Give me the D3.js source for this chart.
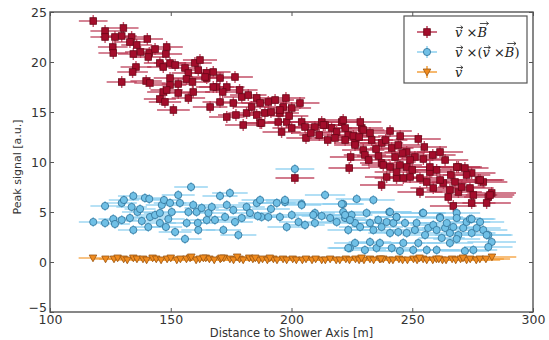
<!DOCTYPE html>
<html>
<head>
<meta charset="utf-8">
<script src="https://cdn.jsdelivr.net/npm/d3@7"></script>
<style>
  html, body { margin: 0; padding: 0; background: #fff; }
  svg { display: block; }
  .tick text { font-family: "DejaVu Sans", sans-serif; font-size: 12.5px; fill: #333; }
</style>
</head>
<body>
<svg id="chart" width="549" height="340"></svg>
<script>
// Peak signal vs. distance to shower axis, three polarisation components

// v x B component
const redX = [117.9,130.4,122.8,122.8,126.9,129.7,133.8,133.1,140.3,135.9,126.0,126.2,137.5,134.5,141.1,143.5,148.3,148.0,140.7,145.5,
  149.7,151.8,146.9,135.6,134.2,155.9,157.3,160.0,162.1,161.4,164.9,167.6,129.7,139.8,141.4,149.7,149.7,153.1,146.9,148.3,
  153.1,157.3,159.3,145.5,147.6,151.1,166.3,169.0,164.9,164.2,170.4,176.6,167.6,173.2,170.4,175.9,179.4,182.1,185.6,187.0,
  190.4,193.2,197.7,203.5,196.6,200.1,173.2,177.0,181.4,185.6,189.0,195.2,180.0,187.0,194.5,198.0,195.9,200.1,204.2,205.6,
  209.7,212.5,213.9,216.6,206.0,218.7,220.8,222.2,218.0,223.5,225.6,226.3,223.9,201.4,221.4,222.2,229.1,232.5,233.2,240.8,
  226.3,229.7,230.4,237.3,241.5,244.2,252.5,247.7,242.9,251.1,254.6,237.3,240.8,244.9,247.7,261.5,263.6,257.3,260.1,269.1,
  271.8,274.6,239.4,243.5,249.1,253.2,237.3,256.0,262.9,267.7,277.4,279.4,253.2,264.9,269.1,275.3,281.5,282.9,274.6,280.8,
  267.0,261.5,270.5,258.7,195.2,187.6,213.2,229.7,249.1,257.3,268.4,272.5,278.1,282.2,246.3,265.6,273.9,238.0,243.5,156.5,
  159.0,171.5,178.5,183.5,191.5,199.0,208.0,211.5,215.0,228.0,235.0,239.0,246.0,250.0,255.0,258.5,266.0,245.0,232.0,236.0,
  228.5,224.5];
const redY = [24.1,23.4,23.1,22.5,22.5,22.6,22.5,22.0,22.3,21.7,21.5,20.9,21.0,20.8,20.9,21.3,21.5,20.8,20.5,19.9,
  19.9,19.7,19.5,19.5,19.0,19.4,18.9,19.9,20.2,19.2,18.9,19.0,18.0,18.1,17.9,18.4,17.7,17.8,17.0,17.2,
  16.9,16.4,17.0,16.3,16.0,15.2,15.5,17.5,18.4,18.5,18.4,18.5,17.5,17.5,16.0,15.9,16.5,16.7,16.4,15.9,
  16.0,16.2,16.4,15.9,15.5,15.4,14.5,14.7,14.9,14.7,14.9,14.9,13.7,13.9,14.0,14.0,13.0,13.4,14.0,13.5,
  13.5,14.0,13.7,13.4,12.4,13.0,14.0,13.4,12.4,12.7,12.6,11.9,9.4,8.4,14.2,12.2,13.4,12.9,12.2,13.1,
  11.7,11.2,10.7,11.9,11.4,11.7,12.3,11.0,10.5,10.5,10.3,9.9,9.5,9.7,9.5,11.0,10.2,9.0,9.2,9.5,
  9.4,8.9,8.5,8.4,8.5,8.4,7.7,8.0,7.9,8.0,8.2,8.0,7.0,6.5,7.0,6.7,6.5,6.9,5.9,5.9,
  5.6,8.2,7.5,7.4,15.2,13.9,13.7,13.2,10.2,9.5,9.5,8.7,8.2,6.7,8.4,7.2,7.4,9.7,9.0,18.3,
  18.0,17.0,17.2,15.5,15.0,14.6,12.9,12.7,12.2,12.5,11.3,12.2,10.9,9.2,11.5,10.7,8.7,12.6,10.2,10.6,
  14.0,10.5];

// v x (v x B) component
const blueX = [117.9,122.8,122.8,126.2,126.9,129.7,129.7,130.6,133.1,133.8,134.5,134.5,136.2,137.3,138.0,139.3,141.1,140.7,141.4,143.5,
  145.5,145.5,146.3,147.2,148.0,149.0,149.7,150.4,151.8,153.1,153.8,155.9,156.6,157.3,158.4,159.3,160.7,161.2,161.4,162.8,
  164.9,165.6,167.0,168.3,170.4,171.8,172.5,173.2,174.5,175.9,176.6,178.0,179.4,181.4,182.8,185.6,187.0,187.6,190.4,193.9,
  195.2,197.3,198.0,200.1,202.9,201.4,213.9,227.0,233.9,204.2,221.4,205.6,209.7,212.5,216.0,218.7,221.4,222.2,224.9,223.5,
  226.3,228.4,231.1,232.5,233.9,235.9,237.3,239.4,240.5,240.8,242.2,243.5,244.2,247.0,247.7,251.1,251.8,254.3,255.3,256.6,
  258.7,260.1,262.2,261.5,263.6,264.3,265.6,267.0,268.4,268.4,269.1,271.1,272.5,273.9,274.6,276.7,278.1,279.4,281.5,282.9,
  275.3,271.8,260.1,256.0,250.4,244.9,241.5,235.2,230.4,224.2,226.3,236.6,232.5,246.3,252.5,265.6,268.4,281.5,197.3,209.0,
  209.7,220.8,222.2,224.2,240.8,243.5,254.6,261.5,274.6,280.8,223.5,204.2,186.0,191.5];
const blueY = [4.0,3.9,5.6,4.3,3.8,4.2,5.9,6.2,4.4,5.5,6.6,3.2,5.0,5.3,4.1,6.4,6.3,3.5,4.5,4.7,
  4.9,3.9,5.7,6.2,3.5,4.3,5.9,5.0,3.0,6.7,5.9,2.3,3.9,5.0,7.5,5.7,5.0,3.9,3.2,5.4,
  4.2,4.9,5.5,4.2,6.6,3.2,4.5,5.7,6.9,5.2,4.0,2.7,4.4,5.5,4.9,5.9,6.2,4.5,4.5,5.9,
  4.5,6.0,3.5,4.7,4.0,9.3,6.7,6.3,6.2,5.8,5.8,3.7,4.9,4.6,4.4,4.0,5.0,4.4,4.7,3.2,
  3.9,3.5,4.9,3.9,3.2,4.2,3.5,4.0,5.0,2.9,3.9,4.5,3.0,3.9,2.9,3.2,3.9,4.9,2.7,3.4,
  3.7,3.2,2.4,4.5,3.4,3.9,2.9,3.5,4.9,4.4,2.7,3.4,4.0,4.3,2.9,3.4,4.0,3.2,2.7,2.0,
  1.2,1.1,1.2,1.2,1.2,1.1,1.4,1.4,1.2,1.4,1.9,1.9,2.0,1.9,1.9,1.9,2.3,1.5,6.2,4.7,
  3.9,5.8,4.7,4.2,5.0,4.5,4.9,4.4,4.3,2.7,1.4,5.7,4.6,5.3];

// v component
const orangeX = [117.8,123.0,126.5,128.0,130.5,132.0,134.5,136.0,138.5,140.0,142.5,144.0,146.0,148.5,150.0,152.5,154.0,156.5,158.0,160.5,
  162.0,164.5,166.0,168.0,170.5,172.0,174.5,176.0,178.5,180.0,182.5,184.0,186.5,188.0,190.0,192.5,194.0,196.5,198.0,200.5,
  202.0,204.5,206.0,208.5,210.0,212.5,214.0,216.0,218.5,220.0,222.5,224.0,226.5,228.0,230.0,232.5,234.0,236.5,238.0,240.5,
  242.0,244.5,246.0,248.0,250.5,252.0,254.5,256.0,258.5,260.0,262.5,264.0,266.5,268.0,270.0,272.5,274.0,276.5,278.0,280.5,
  283.0,158.5,163.5,171.0,177.5,185.0,191.0,229.0,237.0,253.0,261.0,271.0];
const orangeY = [0.4,0.3,0.3,0.4,0.3,0.2,0.4,0.3,0.3,0.2,0.4,0.3,0.2,0.3,0.4,0.2,0.3,0.3,0.4,0.2,
  0.3,0.4,0.3,0.2,0.3,0.4,0.3,0.2,0.3,0.2,0.4,0.3,0.2,0.3,0.2,0.3,0.2,0.3,0.2,0.3,
  0.2,0.2,0.3,0.2,0.3,0.2,0.2,0.3,0.2,0.2,0.3,0.2,0.3,0.2,0.2,0.3,0.2,0.3,0.3,0.2,
  0.2,0.3,0.2,0.2,0.3,0.2,0.3,0.2,0.2,0.3,0.2,0.2,0.3,0.2,0.3,0.2,0.3,0.2,0.3,0.3,
  0.5,0.5,0.4,0.4,0.5,0.4,0.4,0.4,0.3,0.4,0.3,0.4];

// axis ticks
const xTicks = [100, 150, 200, 250, 300];
const yTicks = [-5, 0, 5, 10, 15, 20, 25];

// uncertainty model: horizontal error = a + b * distance, vertical error per series
const distErr = [3, 0.025];

const series = [
  { name: "vxB",   xs: redX,    ys: redY,    yerr: 0.6, fill: "#a30d2b", stroke: "#6a0717", bar: "#b8304c", shape: "square" },
  { name: "vxvxB", xs: blueX,   ys: blueY,   yerr: 0.5, fill: "#70c0e6", stroke: "#2c6f96", bar: "#86cdee", shape: "circle" },
  { name: "v",     xs: orangeX, ys: orangeY, yerr: 0.3, fill: "#f08b1e", stroke: "#9a5611", bar: "#f39a30", shape: "tri" }
];

const svg = d3.select("#chart");
const L = 50, R = 533, T = 12, B = 312;
const x = d3.scaleLinear().domain([100, 300]).range([L, R]);
const y = d3.scaleLinear().domain([-5, 25]).range([B, T]);

const plot = svg.append("g");

function drawMarker(g, shape, cx, cy) {
  if (shape === "square") {
    return g.append("rect").attr("x", cx - 3.3).attr("y", cy - 3.3).attr("width", 6.6).attr("height", 6.6);
  } else if (shape === "circle") {
    return g.append("circle").attr("cx", cx).attr("cy", cy).attr("r", 3.6);
  } else {
    return g.append("path").attr("d", `M${cx - 3.8},${cy - 3} L${cx + 3.8},${cy - 3} L${cx},${cy + 3.8} Z`);
  }
}

series.forEach(s => {
  const g = plot.append("g");
  const pts = s.xs.map((xv, i) => ({ x: xv, y: s.ys[i], xe: distErr[0] + distErr[1] * xv }));
  const bars = g.append("g").attr("stroke", s.bar).attr("stroke-width", 1.4).attr("stroke-opacity", 0.85);
  pts.forEach(p => {
    bars.append("line").attr("x1", x(p.x - p.xe)).attr("x2", x(p.x + p.xe)).attr("y1", y(p.y)).attr("y2", y(p.y));
    bars.append("line").attr("x1", x(p.x)).attr("x2", x(p.x)).attr("y1", y(p.y - s.yerr)).attr("y2", y(p.y + s.yerr));
  });
  const marks = g.append("g").attr("fill", s.fill).attr("stroke", s.stroke).attr("stroke-width", 0.8);
  pts.forEach(p => drawMarker(marks, s.shape, x(p.x), y(p.y)));
});

// axes with inward ticks on all four sides
const axisColor = "#555";
function styleAxis(g) {
  g.select(".domain").remove();
  g.selectAll(".tick line").attr("stroke", axisColor).attr("stroke-width", 1);
}
svg.append("g").attr("transform", `translate(0,${B})`)
  .call(d3.axisBottom(x).tickValues(xTicks).tickSize(-4).tickPadding(3).tickFormat(d3.format("d")))
  .call(styleAxis);
svg.append("g").attr("transform", `translate(0,${T})`)
  .call(d3.axisTop(x).tickValues(xTicks).tickSize(-4).tickFormat(""))
  .call(styleAxis);
const yAxisG = svg.append("g").attr("transform", `translate(${L},0)`)
  .call(d3.axisLeft(y).tickValues(yTicks).tickSize(-4).tickPadding(3).tickFormat(d => d < 0 ? "\u2212" + Math.abs(d) : d))
  .call(styleAxis);
// lift the lowest y label so it clears the first x label
yAxisG.selectAll(".tick").filter(d => d === -5).select("text").attr("y", -5);
svg.append("g").attr("transform", `translate(${R},0)`)
  .call(d3.axisRight(y).tickValues(yTicks).tickSize(-4).tickFormat(""))
  .call(styleAxis);
svg.selectAll(".tick text").attr("fill", "#333");

svg.append("rect").attr("x", L).attr("y", T).attr("width", R - L).attr("height", B - T)
  .attr("fill", "none").attr("stroke", axisColor).attr("stroke-width", 1.4);

// axis titles
svg.append("text").attr("x", (L + R) / 2).attr("y", 337).attr("text-anchor", "middle")
  .attr("font-family", "DejaVu Sans, sans-serif").attr("font-size", 11.5).attr("fill", "#333")
  .text("Distance to Shower Axis [m]");
svg.append("text").attr("transform", `translate(21,${(T + B) / 2 + 5}) rotate(-90)`).attr("text-anchor", "middle")
  .attr("font-family", "DejaVu Sans, sans-serif").attr("font-size", 11).attr("fill", "#333")
  .text("Peak signal [a.u.]");

// legend
const leg = svg.append("g");
leg.append("rect").attr("x", 404).attr("y", 16).attr("width", 123).attr("height", 67)
  .attr("fill", "#fff").attr("stroke", "#555").attr("stroke-width", 1.2);

// math labels: pieces are [text, italic, vector-arrow]
const labels = [
  [["v", true, true], [" \u00d7", false, false], ["B", true, true]],
  [["v", true, true], [" \u00d7(", false, false], ["v", true, true], [" \u00d7", false, false], ["B", true, true], [")", false, false]],
  [["v", true, true]]
];
const rowY = [32, 52, 72];

series.forEach((s, i) => {
  const cy = rowY[i], cx = 427;
  const lg = leg.append("g");
  const b = lg.append("g").attr("stroke", s.bar).attr("stroke-width", 1.4);
  b.append("line").attr("x1", cx - 10).attr("x2", cx + 10).attr("y1", cy).attr("y2", cy);
  b.append("line").attr("x1", cx).attr("x2", cx).attr("y1", cy - 6).attr("y2", cy + 6);
  const m = lg.append("g").attr("fill", s.fill).attr("stroke", s.stroke).attr("stroke-width", 0.8);
  drawMarker(m, s.shape, cx, cy);

  let tx = 455;
  labels[i].forEach(([str, ital, vec]) => {
    const t = lg.append("text").attr("x", tx).attr("y", cy + 4.5)
      .attr("font-family", "DejaVu Serif, serif").attr("font-size", 13)
      .attr("font-style", ital ? "italic" : "normal").attr("fill", "#222")
      .attr("xml:space", "preserve").text(str);
    const w = t.node().getComputedTextLength();
    if (vec) {
      const top = str === "B" ? cy - 8.5 : cy - 4.5;
      const ax0 = tx + (str === "B" ? 2.5 : 1.5), ax1 = tx + w + (str === "B" ? 1.5 : 0.5);
      lg.append("path").attr("d", `M${ax0},${top} L${ax1},${top} M${ax1 - 2.2},${top - 1.8} L${ax1},${top} L${ax1 - 2.2},${top + 1.8}`)
        .attr("fill", "none").attr("stroke", "#222").attr("stroke-width", 0.8);
    }
    tx += w;
  });
});
</script>
</body>
</html>
